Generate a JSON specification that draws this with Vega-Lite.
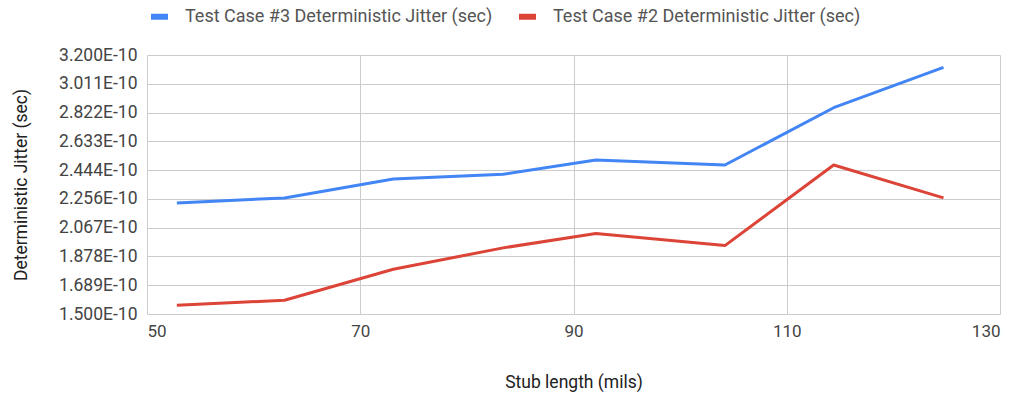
{
  "$schema": "https://vega.github.io/schema/vega-lite/v6.json",
  "autosize": "none",
  "width": 853,
  "height": 259,
  "padding": {"left": 147, "top": 55, "right": 21, "bottom": 86},
  "background": "white",
  "config": {
    "font": "Roboto",
    "view": {"stroke": null}
  },
  "data": {
    "values": [
      {"stub": 52.8, "jitter": 2.229e-10, "series": "Test Case #3 Deterministic Jitter (sec)"},
      {"stub": 62.9, "jitter": 2.262e-10, "series": "Test Case #3 Deterministic Jitter (sec)"},
      {"stub": 73.1, "jitter": 2.386e-10, "series": "Test Case #3 Deterministic Jitter (sec)"},
      {"stub": 83.4, "jitter": 2.417e-10, "series": "Test Case #3 Deterministic Jitter (sec)"},
      {"stub": 92.1, "jitter": 2.511e-10, "series": "Test Case #3 Deterministic Jitter (sec)"},
      {"stub": 104.2, "jitter": 2.478e-10, "series": "Test Case #3 Deterministic Jitter (sec)"},
      {"stub": 114.4, "jitter": 2.854e-10, "series": "Test Case #3 Deterministic Jitter (sec)"},
      {"stub": 124.7, "jitter": 3.119e-10, "series": "Test Case #3 Deterministic Jitter (sec)"},
      {"stub": 52.8, "jitter": 1.557e-10, "series": "Test Case #2 Deterministic Jitter (sec)"},
      {"stub": 62.9, "jitter": 1.590e-10, "series": "Test Case #2 Deterministic Jitter (sec)"},
      {"stub": 73.1, "jitter": 1.794e-10, "series": "Test Case #2 Deterministic Jitter (sec)"},
      {"stub": 83.4, "jitter": 1.934e-10, "series": "Test Case #2 Deterministic Jitter (sec)"},
      {"stub": 92.1, "jitter": 2.028e-10, "series": "Test Case #2 Deterministic Jitter (sec)"},
      {"stub": 104.2, "jitter": 1.949e-10, "series": "Test Case #2 Deterministic Jitter (sec)"},
      {"stub": 114.4, "jitter": 2.478e-10, "series": "Test Case #2 Deterministic Jitter (sec)"},
      {"stub": 124.7, "jitter": 2.262e-10, "series": "Test Case #2 Deterministic Jitter (sec)"}
    ]
  },
  "mark": {"type": "line", "strokeWidth": 3, "strokeJoin": "round"},
  "encoding": {
    "x": {
      "field": "stub",
      "type": "quantitative",
      "scale": {"domain": [50, 130], "nice": false, "zero": false},
      "axis": {
        "values": [50, 70, 90, 110, 130],
        "title": "Stub length (mils)",
        "titleFont": "Roboto",
        "titleFontSize": 17.5,
        "titleFontWeight": "normal",
        "titleColor": "#222222",
        "titlePadding": 34,
        "labelFont": "Roboto",
        "labelFontSize": 17,
        "labelColor": "#444444",
        "labelPadding": 9,
        "ticks": false,
        "domain": false,
        "grid": true,
        "gridColor": "#cccccc",
        "gridWidth": 1
      }
    },
    "y": {
      "field": "jitter",
      "type": "quantitative",
      "scale": {"domain": [1.5e-10, 3.2e-10], "nice": false, "zero": false},
      "axis": {
        "values": [1.5e-10, 1.6889e-10, 1.8778e-10, 2.0667e-10, 2.2556e-10, 2.4444e-10, 2.6333e-10, 2.8222e-10, 3.0111e-10, 3.2e-10],
        "labelExpr": "format(datum.value * 1e10, '.3f') + 'E-10'",
        "title": "Deterministic Jitter (sec)",
        "titleFont": "Roboto",
        "titleFontSize": 17.5,
        "titleFontWeight": "normal",
        "titleColor": "#222222",
        "titlePadding": 28,
        "labelFont": "Roboto",
        "labelFontSize": 17.5,
        "labelColor": "#444444",
        "labelPadding": 10,
        "ticks": false,
        "domain": false,
        "grid": true,
        "gridColor": "#cccccc",
        "gridWidth": 1
      }
    },
    "color": {
      "field": "series",
      "type": "nominal",
      "scale": {
        "domain": ["Test Case #3 Deterministic Jitter (sec)", "Test Case #2 Deterministic Jitter (sec)"],
        "range": ["#4285F4", "#DB4437"]
      },
      "legend": {
        "orient": "none",
        "direction": "horizontal",
        "legendX": 1,
        "legendY": -50,
        "padding": 0,
        "title": null,
        "labelFont": "Roboto",
        "labelFontSize": 18,
        "labelColor": "#555555",
        "symbolType": "stroke",
        "symbolSize": 289,
        "symbolStrokeWidth": 6,
        "columnPadding": 14,
        "labelOffset": 14,
        "labelLimit": 400
      }
    }
  }
}
